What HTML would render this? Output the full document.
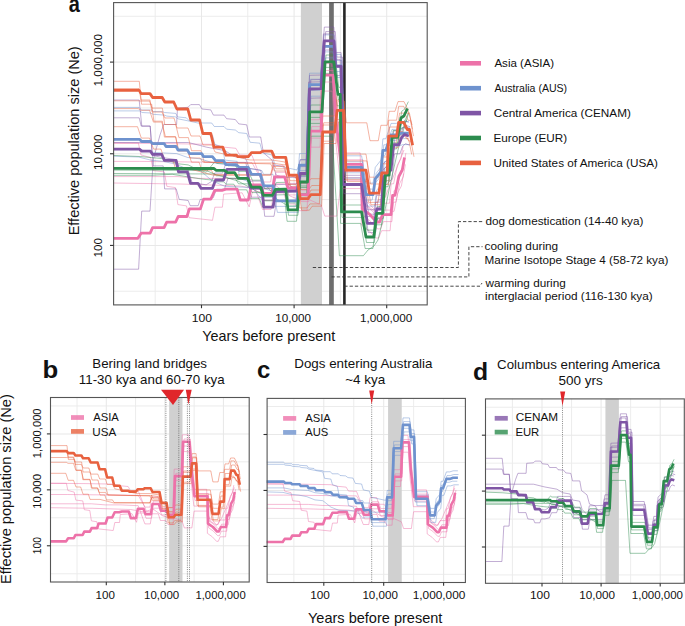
<!DOCTYPE html>
<html><head><meta charset="utf-8"><style>
html,body{margin:0;padding:0;background:#fff;}
svg{display:block;}
text{font-family:"Liberation Sans", sans-serif;}
</style></head><body>
<svg width="685" height="626" viewBox="0 0 685 626">
<rect width="685" height="626" fill="#fff"/>
<line x1="155.20" y1="2.6" x2="155.20" y2="304.9" stroke="#ebebeb" stroke-width="0.95"/>
<line x1="113.6" y1="291.25" x2="427.2" y2="291.25" stroke="#ebebeb" stroke-width="0.95"/>
<line x1="247.80" y1="2.6" x2="247.80" y2="304.9" stroke="#ebebeb" stroke-width="0.95"/>
<line x1="113.6" y1="199.59" x2="427.2" y2="199.59" stroke="#ebebeb" stroke-width="0.95"/>
<line x1="340.40" y1="2.6" x2="340.40" y2="304.9" stroke="#ebebeb" stroke-width="0.95"/>
<line x1="113.6" y1="107.93" x2="427.2" y2="107.93" stroke="#ebebeb" stroke-width="0.95"/>
<line x1="113.6" y1="16.27" x2="427.2" y2="16.27" stroke="#ebebeb" stroke-width="0.95"/>
<line x1="201.50" y1="2.6" x2="201.50" y2="304.9" stroke="#e8e8e8" stroke-width="1.05"/>
<line x1="113.6" y1="245.42" x2="427.2" y2="245.42" stroke="#e8e8e8" stroke-width="1.05"/>
<line x1="294.10" y1="2.6" x2="294.10" y2="304.9" stroke="#e8e8e8" stroke-width="1.05"/>
<line x1="113.6" y1="153.76" x2="427.2" y2="153.76" stroke="#e8e8e8" stroke-width="1.05"/>
<line x1="386.70" y1="2.6" x2="386.70" y2="304.9" stroke="#e8e8e8" stroke-width="1.05"/>
<line x1="113.6" y1="62.10" x2="427.2" y2="62.10" stroke="#e8e8e8" stroke-width="1.05"/>
<line x1="77.02" y1="397.5" x2="77.02" y2="582.0" stroke="#ebebeb" stroke-width="0.95"/>
<line x1="50.5" y1="573.75" x2="249.2" y2="573.75" stroke="#ebebeb" stroke-width="0.95"/>
<line x1="135.58" y1="397.5" x2="135.58" y2="582.0" stroke="#ebebeb" stroke-width="0.95"/>
<line x1="50.5" y1="517.81" x2="249.2" y2="517.81" stroke="#ebebeb" stroke-width="0.95"/>
<line x1="194.14" y1="397.5" x2="194.14" y2="582.0" stroke="#ebebeb" stroke-width="0.95"/>
<line x1="50.5" y1="461.87" x2="249.2" y2="461.87" stroke="#ebebeb" stroke-width="0.95"/>
<line x1="50.5" y1="405.93" x2="249.2" y2="405.93" stroke="#ebebeb" stroke-width="0.95"/>
<line x1="106.30" y1="397.5" x2="106.30" y2="582.0" stroke="#e8e8e8" stroke-width="1.05"/>
<line x1="50.5" y1="545.78" x2="249.2" y2="545.78" stroke="#e8e8e8" stroke-width="1.05"/>
<line x1="164.86" y1="397.5" x2="164.86" y2="582.0" stroke="#e8e8e8" stroke-width="1.05"/>
<line x1="50.5" y1="489.84" x2="249.2" y2="489.84" stroke="#e8e8e8" stroke-width="1.05"/>
<line x1="223.42" y1="397.5" x2="223.42" y2="582.0" stroke="#e8e8e8" stroke-width="1.05"/>
<line x1="50.5" y1="433.90" x2="249.2" y2="433.90" stroke="#e8e8e8" stroke-width="1.05"/>
<line x1="293.85" y1="398.4" x2="293.85" y2="582.5" stroke="#ebebeb" stroke-width="0.95"/>
<line x1="267.1" y1="574.35" x2="465.4" y2="574.35" stroke="#ebebeb" stroke-width="0.95"/>
<line x1="353.75" y1="398.4" x2="353.75" y2="582.5" stroke="#ebebeb" stroke-width="0.95"/>
<line x1="267.1" y1="518.41" x2="465.4" y2="518.41" stroke="#ebebeb" stroke-width="0.95"/>
<line x1="413.65" y1="398.4" x2="413.65" y2="582.5" stroke="#ebebeb" stroke-width="0.95"/>
<line x1="267.1" y1="462.47" x2="465.4" y2="462.47" stroke="#ebebeb" stroke-width="0.95"/>
<line x1="267.1" y1="406.53" x2="465.4" y2="406.53" stroke="#ebebeb" stroke-width="0.95"/>
<line x1="323.80" y1="398.4" x2="323.80" y2="582.5" stroke="#e8e8e8" stroke-width="1.05"/>
<line x1="267.1" y1="546.38" x2="465.4" y2="546.38" stroke="#e8e8e8" stroke-width="1.05"/>
<line x1="383.70" y1="398.4" x2="383.70" y2="582.5" stroke="#e8e8e8" stroke-width="1.05"/>
<line x1="267.1" y1="490.44" x2="465.4" y2="490.44" stroke="#e8e8e8" stroke-width="1.05"/>
<line x1="443.60" y1="398.4" x2="443.60" y2="582.5" stroke="#e8e8e8" stroke-width="1.05"/>
<line x1="267.1" y1="434.50" x2="465.4" y2="434.50" stroke="#e8e8e8" stroke-width="1.05"/>
<line x1="512.45" y1="398.9" x2="512.45" y2="583.3" stroke="#ebebeb" stroke-width="0.95"/>
<line x1="485.5" y1="574.95" x2="684.3" y2="574.95" stroke="#ebebeb" stroke-width="0.95"/>
<line x1="571.55" y1="398.9" x2="571.55" y2="583.3" stroke="#ebebeb" stroke-width="0.95"/>
<line x1="485.5" y1="519.05" x2="684.3" y2="519.05" stroke="#ebebeb" stroke-width="0.95"/>
<line x1="630.65" y1="398.9" x2="630.65" y2="583.3" stroke="#ebebeb" stroke-width="0.95"/>
<line x1="485.5" y1="463.15" x2="684.3" y2="463.15" stroke="#ebebeb" stroke-width="0.95"/>
<line x1="485.5" y1="407.25" x2="684.3" y2="407.25" stroke="#ebebeb" stroke-width="0.95"/>
<line x1="542.00" y1="398.9" x2="542.00" y2="583.3" stroke="#e8e8e8" stroke-width="1.05"/>
<line x1="485.5" y1="547.00" x2="684.3" y2="547.00" stroke="#e8e8e8" stroke-width="1.05"/>
<line x1="601.10" y1="398.9" x2="601.10" y2="583.3" stroke="#e8e8e8" stroke-width="1.05"/>
<line x1="485.5" y1="491.10" x2="684.3" y2="491.10" stroke="#e8e8e8" stroke-width="1.05"/>
<line x1="660.20" y1="398.9" x2="660.20" y2="583.3" stroke="#e8e8e8" stroke-width="1.05"/>
<line x1="485.5" y1="435.20" x2="684.3" y2="435.20" stroke="#e8e8e8" stroke-width="1.05"/>
<rect x="300.87" y="2.6" width="21.11" height="302.30" fill="#d0d0d0"/>
<rect x="329.1" y="2.6" width="4.7" height="302.30" fill="#6e6e6e"/>
<rect x="343.1" y="2.6" width="2.6" height="302.30" fill="#262626"/>
<rect x="169.14" y="397.5" width="13.35" height="184.50" fill="#d0d0d0"/>
<rect x="388.08" y="398.4" width="13.66" height="184.10" fill="#d0d0d0"/>
<rect x="605.42" y="398.9" width="13.47" height="184.40" fill="#d0d0d0"/>
<clipPath id="ca"><rect x="113.6" y="2.6" width="313.6" height="302.29999999999995"/></clipPath>
<g clip-path="url(#ca)">
<polyline points="113.7,143.1 138.4,143.1 140.9,154.9 150.7,157.5 153.2,170.6 164.3,171.9 166.8,186.3 175.4,187.6 177.9,204.6 186.5,205.9 189.0,217.7 212.5,220.3 214.9,207.2 222.4,207.2 223.6,194.1 242.1,192.8 249.2,206.9 252.4,191.7 261.2,191.7 264.4,200.4 272.9,200.4 275.4,183.8 285.5,183.8 288.9,194.9 297.2,194.9 300.9,201.6 308.9,201.6 311.1,138.1 321.9,138.1 323.9,82.0 334.0,82.0 336.9,126.9 341.9,171.3 362.5,171.3 363.2,215.9 370.9,221.6 377.6,228.9 380.5,228.9 383.4,221.6 391.9,221.6 393.5,202.2 395.9,202.2 399.7,183.4 403.2,176.9 405.4,164.4" fill="none" stroke="#ED72A9" stroke-width="0.8" stroke-linejoin="round" stroke-opacity="0.6"/>
<polyline points="113.7,143.1 168.0,143.6 212.5,144.4 222.4,147.0 235.9,148.3 239.6,154.9 252.0,155.4 258.9,173.3 262.1,182.0 270.6,182.0 273.1,165.4 283.2,165.4 286.6,176.5 294.9,176.5 298.6,183.2 306.6,183.2 308.8,119.7 319.6,119.7 321.6,63.6 331.7,63.6 334.6,108.5 339.6,152.9 360.2,152.9 360.9,197.5 368.6,203.2 375.3,210.5 378.2,210.5 381.1,203.2 389.6,203.2 391.2,183.8 393.6,183.8 397.4,165.0 400.9,158.5 403.1,146.0" fill="none" stroke="#ED72A9" stroke-width="0.8" stroke-linejoin="round" stroke-opacity="0.6"/>
<polyline points="113.7,161.4 139.6,161.4 252.0,162.7 261.7,180.2 264.9,188.9 273.4,188.9 275.9,172.3 286.0,172.3 289.4,183.4 297.7,183.4 301.4,190.1 309.4,190.1 311.6,126.6 322.4,126.6 324.4,70.5 334.5,70.5 337.4,115.4 342.4,159.8 363.0,159.8 363.7,204.4 371.4,210.1 378.1,217.4 381.0,217.4 383.9,210.1 392.4,210.1 394.0,190.7 396.4,190.7 400.2,171.9 403.7,165.4 405.9,152.9" fill="none" stroke="#ED72A9" stroke-width="0.8" stroke-linejoin="round" stroke-opacity="0.6"/>
<polyline points="113.7,176.6 177.9,176.6 200.1,178.4 224.8,178.4 252.0,179.7 259.4,200.8 262.6,209.5 271.1,209.5 273.6,192.9 283.7,192.9 287.1,204.0 295.4,204.0 299.1,210.7 307.1,210.7 309.3,147.2 320.1,147.2 322.1,91.1 332.2,91.1 335.1,136.0 340.1,180.4 360.7,180.4 361.4,225.0 369.1,230.7 375.8,238.0 378.7,238.0 381.6,230.7 390.1,230.7 391.7,211.3 394.1,211.3 397.9,192.5 401.4,186.0 403.6,173.5" fill="none" stroke="#ED72A9" stroke-width="0.8" stroke-linejoin="round" stroke-opacity="0.6"/>
<polyline points="113.0,183.0 180.0,184.0 240.0,186.0 262.0,190.0 275.0,185.0 290.0,196.0 300.0,200.0 309.2,199.6 321.3,205.1 324.8,216.1 336.9,216.1 340.3,188.6 361.0,188.6 366.0,205.0 376.0,212.0 384.0,200.0 392.0,180.0 398.0,165.0 404.0,150.0" fill="none" stroke="#ED72A9" stroke-width="0.8" stroke-linejoin="round" stroke-opacity="0.6"/>
<polyline points="113.0,107.4 139.0,107.4 141.5,110.0 151.7,110.0 153.5,111.6 162.6,111.6 164.4,112.5 175.8,113.4 177.5,116.9 186.3,117.8 188.9,120.4 199.4,121.3 202.0,123.0 211.7,123.0 214.3,126.5 224.0,126.5 226.6,129.2 235.3,130.0 238.8,132.7 246.7,133.5 250.2,142.3 259.9,143.2 262.5,152.8 272.0,155.0 275.0,165.0 288.0,168.0 297.0,170.0 300.4,159.6 307.9,159.6 310.4,79.2 321.9,79.2 324.9,40.9 334.9,40.9 336.9,60.5 341.9,60.5 344.9,161.8 362.5,161.8 366.9,189.1 374.0,189.1 376.2,173.3 381.9,166.1 383.8,144.8 386.7,144.8 392.0,129.4 397.1,129.4 402.5,127.6 409.7,127.6" fill="none" stroke="#6E92CE" stroke-width="0.8" stroke-linejoin="round" stroke-opacity="0.6"/>
<polyline points="113.7,110.9 139.6,110.9 142.1,112.5 150.7,113.0 153.2,114.3 164.3,115.1 166.8,116.1 175.4,116.9 177.9,118.8 187.8,120.8 200.1,123.5 202.6,133.9 212.5,135.2 214.9,144.4 222.4,147.0 224.8,160.1 237.2,161.4 239.6,178.4 247.0,181.0 249.5,186.3 261.9,187.6 272.1,191.3 275.1,206.4 296.1,206.4 298.6,170.6 306.1,170.6 308.6,90.2 320.1,90.2 323.1,51.9 333.1,51.9 335.1,71.5 340.1,71.5 343.1,172.8 360.7,172.8 365.1,200.1 372.2,200.1 374.4,184.3 380.1,177.1 382.0,155.8 384.9,155.8 390.2,140.4 395.3,140.4 400.7,138.6 407.9,138.6" fill="none" stroke="#6E92CE" stroke-width="0.8" stroke-linejoin="round" stroke-opacity="0.6"/>
<polyline points="113.7,149.6 139.6,149.6 152.0,152.3 176.7,153.6 187.8,157.5 200.1,158.8 212.5,162.7 237.2,166.6 261.9,170.6 263.5,174.3 273.0,174.3 276.0,189.4 297.0,189.4 299.5,153.6 307.0,153.6 309.5,73.2 321.0,73.2 324.0,34.9 334.0,34.9 336.0,54.5 341.0,54.5 344.0,155.8 361.6,155.8 366.0,183.1 373.1,183.1 375.3,167.3 381.0,160.1 382.9,138.8 385.8,138.8 391.1,123.4 396.2,123.4 401.6,121.6 408.8,121.6" fill="none" stroke="#6E92CE" stroke-width="0.8" stroke-linejoin="round" stroke-opacity="0.6"/>
<polyline points="113.7,156.2 138.4,157.0 150.7,160.1 163.1,161.4 175.4,164.0 187.8,169.3 200.1,170.6 212.5,181.0 224.8,186.3 252.0,187.6 261.9,199.4 264.9,197.3 274.4,197.3 277.4,212.4 298.4,212.4 300.9,176.6 308.4,176.6 310.9,96.2 322.4,96.2 325.4,57.9 335.4,57.9 337.4,77.5 342.4,77.5 345.4,178.8 363.0,178.8 367.4,206.1 374.5,206.1 376.7,190.3 382.4,183.1 384.3,161.8 387.2,161.8 392.5,146.4 397.6,146.4 403.0,144.6 410.2,144.6" fill="none" stroke="#6E92CE" stroke-width="0.8" stroke-linejoin="round" stroke-opacity="0.6"/>
<polyline points="112.2,100.0 139.2,100.0 141.8,126.1 150.2,126.1 153.2,165.9 163.2,165.9 164.6,188.9 176.2,188.9 179.2,199.4 188.2,200.5 190.2,205.7 198.2,205.7 200.2,199.4 206.2,199.4 213.3,197.6 216.5,189.2 224.4,189.2 227.9,178.5 247.6,178.5 251.3,197.2 262.8,197.2 264.7,216.3 274.0,216.3 276.5,200.8 298.3,200.2 301.1,182.7 307.8,182.7 310.4,98.2 322.0,97.9 325.2,50.0 334.8,50.0 336.4,75.5 342.0,75.5 343.9,193.7 362.5,193.7 368.3,232.6 375.5,232.6 377.6,218.2 382.7,218.2 384.1,186.5 391.9,179.2 394.6,153.8 399.9,153.8 402.5,146.6 405.4,143.7 409.7,145.2" fill="none" stroke="#7F55A5" stroke-width="0.8" stroke-linejoin="round" stroke-opacity="0.6"/>
<polyline points="112.2,117.8 139.2,117.8 141.2,126.1 150.2,126.1 152.2,155.4 162.2,157.5 176.2,159.6 179.2,168.0 188.2,170.1 192.2,182.7 206.2,184.8 211.5,181.5 214.7,173.1 222.6,173.1 226.1,162.4 245.8,162.4 249.5,181.1 261.0,181.1 262.9,200.2 272.2,200.2 274.7,184.7 296.5,184.1 299.3,166.6 306.0,166.6 308.6,82.1 320.2,81.8 323.4,33.9 333.0,33.9 334.6,59.4 340.2,59.4 342.1,177.6 360.7,177.6 366.5,216.5 373.7,216.5 375.8,202.1 380.9,202.1 382.3,170.4 390.1,163.1 392.8,137.7 398.1,137.7 400.7,130.5 403.6,127.6 407.9,129.1" fill="none" stroke="#7F55A5" stroke-width="0.8" stroke-linejoin="round" stroke-opacity="0.6"/>
<polyline points="112.2,142.5 188.2,142.5 202.2,146.0 206.2,147.1 224.9,150.6 234.3,156.5 245.6,158.4 249.3,168.3 260.6,170.2 264.4,184.0 273.1,193.4 275.6,177.9 297.4,177.3 300.2,159.8 306.9,159.8 309.5,75.3 321.1,75.0 324.3,27.1 333.9,27.1 335.5,52.6 341.1,52.6 343.0,170.8 361.6,170.8 367.4,209.7 374.6,209.7 376.7,195.3 381.8,195.3 383.2,163.6 391.0,156.3 393.7,130.9 399.0,130.9 401.6,123.7 404.5,120.8 408.8,122.3" fill="none" stroke="#7F55A5" stroke-width="0.8" stroke-linejoin="round" stroke-opacity="0.6"/>
<polyline points="113.0,269.2 138.6,269.2 141.7,211.1 150.0,211.1 153.2,160.0 160.0,135.0 163.7,124.5 176.6,124.5 177.5,108.1 188.0,107.3 190.7,104.6 199.4,104.6 202.0,109.0 210.8,109.9 213.4,115.1 224.0,115.1 226.6,118.7 235.3,119.5 238.8,123.9 246.7,124.8 249.3,137.0 260.7,137.0 263.4,152.8 272.0,160.0 276.0,175.0 285.0,178.0 289.0,185.0 297.0,190.0 300.0,176.0 307.0,176.0 310.9,79.8 322.5,79.5 325.7,31.6 335.3,31.6 336.9,57.1 342.5,57.1 344.4,175.3 363.0,175.3 368.8,214.2 376.0,214.2 378.1,199.8 383.2,199.8 384.6,168.1 392.4,160.8 395.1,135.4 400.4,135.4 403.0,128.2 405.9,125.3 410.2,126.8" fill="none" stroke="#7F55A5" stroke-width="0.8" stroke-linejoin="round" stroke-opacity="0.6"/>
<polyline points="112.2,155.4 140.2,156.5 162.2,158.6 178.2,163.8 188.2,164.9 198.2,170.1 206.2,172.2 214.9,161.6 216.9,163.4 225.2,163.4 228.4,165.8 235.6,165.8 238.9,171.4 248.4,171.4 252.4,180.2 261.2,180.2 264.4,188.4 273.2,188.4 276.4,182.5 286.6,182.3 288.9,202.9 298.3,202.9 300.5,175.1 308.4,175.1 310.6,105.1 312.1,105.0 322.8,105.0 326.0,55.0 334.8,55.0 338.8,87.4 341.2,87.4 342.4,205.0 362.5,205.0 366.9,230.1 374.7,230.1 377.6,206.4 383.4,206.4 386.3,168.3 389.9,168.3 393.1,130.5 398.4,130.5 401.8,111.1 404.8,109.1 408.4,101.6" fill="none" stroke="#2C8C4E" stroke-width="0.8" stroke-linejoin="round" stroke-opacity="0.6"/>
<polyline points="112.2,175.3 152.2,175.3 172.2,174.3 198.2,178.5 206.2,179.5 213.1,180.0 215.1,181.8 223.4,181.8 226.6,184.2 233.8,184.2 237.1,189.8 246.6,189.8 250.6,198.6 259.4,198.6 262.6,206.8 271.4,206.8 274.6,200.9 284.8,200.7 287.1,221.3 296.5,221.3 298.7,193.5 306.6,193.5 308.8,123.5 310.3,123.4 321.0,123.4 324.2,73.4 333.0,73.4 337.0,105.8 339.4,105.8 340.6,223.4 360.7,223.4 365.1,248.5 372.9,248.5 375.8,224.8 381.6,224.8 384.5,186.7 388.1,186.7 391.3,148.9 396.6,148.9 400.0,129.5 403.0,127.5 406.6,120.0" fill="none" stroke="#2C8C4E" stroke-width="0.8" stroke-linejoin="round" stroke-opacity="0.6"/>
<polyline points="112.2,170.1 206.2,170.5 214.5,174.0 216.5,175.8 224.8,175.8 228.0,178.2 235.2,178.2 238.5,183.8 248.0,183.8 252.0,192.6 260.8,192.6 264.0,200.8 272.8,200.8 276.0,194.9 286.2,194.7 288.5,215.3 297.9,215.3 300.1,187.5 308.0,187.5 310.2,117.5 311.7,117.4 322.4,117.4 325.6,67.4 334.4,67.4 338.4,99.8 340.8,99.8 342.0,217.4 362.1,217.4 366.5,242.5 374.3,242.5 377.2,218.8 383.0,218.8 385.9,180.7 389.5,180.7 392.7,142.9 398.0,142.9 401.4,123.5 404.4,121.5 408.0,114.0" fill="none" stroke="#2C8C4E" stroke-width="0.8" stroke-linejoin="round" stroke-opacity="0.6"/>
<polyline points="113.0,173.5 214.0,174.0 238.0,181.0 260.0,193.0 272.0,196.0 288.0,206.0 297.0,206.0 300.0,186.0 308.0,186.0 311.0,136.2 332.3,136.2 339.4,255.7 363.4,255.7 368.0,250.0 374.0,246.0 378.0,240.0 384.0,215.0 390.0,185.0 398.0,150.0 404.0,128.0 409.0,112.0" fill="none" stroke="#2C8C4E" stroke-width="0.8" stroke-linejoin="round" stroke-opacity="0.6"/>
<polyline points="113.0,81.3 139.3,81.3 141.5,104.2 151.7,104.2 153.9,121.2 162.4,121.2 164.4,137.1 175.9,137.1 178.0,151.0 188.0,151.0 190.0,158.0 200.0,158.0 203.0,162.0 240.0,163.0 272.0,163.0 285.0,165.0 286.6,162.8 289.9,180.7 297.7,180.7 301.1,189.5 308.9,189.5 311.7,185.5 321.2,185.5 323.6,122.8 335.6,122.8 338.0,101.2 344.4,101.2 346.8,160.9 366.9,160.9 370.4,184.0 379.8,184.0 382.7,163.8 388.2,163.8 389.5,127.0 397.5,127.0 399.6,113.1 404.6,113.1 408.2,120.3 410.4,120.3 413.5,136.1" fill="none" stroke="#E8613F" stroke-width="0.8" stroke-linejoin="round" stroke-opacity="0.6"/>
<polyline points="112.5,108.6 138.2,108.6 140.9,110.3 149.6,110.3 153.4,122.1 161.8,122.1 165.4,136.5 175.4,136.5 178.9,150.6 187.6,150.6 191.5,162.2 199.1,162.2 201.8,170.2 211.3,170.2 213.7,174.5 270.6,174.8 273.6,166.5 284.8,166.5 288.1,184.4 295.9,184.4 299.3,207.9 307.1,207.9 309.9,203.9 319.4,203.9 321.8,141.2 333.8,141.2 336.2,119.6 342.6,119.6 345.0,179.3 365.1,179.3 368.6,202.4 378.0,202.4 380.9,182.2 386.4,182.2 387.7,145.4 395.7,145.4 397.8,131.5 402.8,131.5 406.4,138.7 408.6,138.7 411.7,154.5" fill="none" stroke="#E8613F" stroke-width="0.8" stroke-linejoin="round" stroke-opacity="0.6"/>
<polyline points="112.5,126.7 137.5,126.7 141.3,138.1 149.6,138.1 153.6,149.1 161.0,149.1 164.7,160.9 173.2,160.9 175.7,169.4 191.5,169.4 213.7,175.3 270.6,175.3 273.1,162.6 275.9,168.8 287.1,168.8 290.4,186.7 298.2,186.7 301.6,210.2 309.4,210.2 312.2,206.2 321.7,206.2 324.1,143.5 336.1,143.5 338.5,121.9 344.9,121.9 347.3,181.6 367.4,181.6 370.9,204.7 380.3,204.7 383.2,184.5 388.7,184.5 390.0,147.7 398.0,147.7 400.1,133.8 405.1,133.8 408.7,141.0 410.9,141.0 414.0,156.8" fill="none" stroke="#E8613F" stroke-width="0.8" stroke-linejoin="round" stroke-opacity="0.6"/>
<polyline points="112.5,100.8 138.2,100.8 141.3,101.1 149.6,101.1 152.0,108.1 162.4,108.1 164.7,124.5 175.7,124.5 178.9,137.6 188.4,137.6 191.5,150.7 201.0,150.7 204.2,162.2 270.6,163.9 274.5,171.0 285.7,171.0 289.0,188.9 296.8,188.9 300.2,182.7 308.0,182.7 310.8,178.7 320.3,178.7 322.7,116.0 334.7,116.0 337.1,94.4 343.5,94.4 345.9,154.1 366.0,154.1 369.5,177.2 378.9,177.2 381.8,157.0 387.3,157.0 388.6,120.2 396.6,120.2 398.7,106.3 403.7,106.3 407.3,113.5 409.5,113.5 412.6,129.3" fill="none" stroke="#E8613F" stroke-width="0.8" stroke-linejoin="round" stroke-opacity="0.6"/>
<polyline points="113.0,88.5 139.0,88.5 141.0,100.0 150.0,100.0 152.0,112.0 162.0,112.0 165.0,118.0 174.0,118.0 177.0,128.0 188.0,128.0 191.0,136.0 200.0,136.0 203.0,145.0 212.0,145.0 215.0,152.0 250.0,160.0 272.0,160.0 285.0,162.0 289.0,175.0 297.0,178.0 300.0,195.0 308.0,196.0 311.0,190.0 320.0,190.0 322.7,125.0 334.7,125.0 337.0,100.0 343.5,100.0 346.4,122.8 366.8,122.8 370.0,140.7 378.3,140.7 380.9,125.3 387.3,125.3 389.2,111.3 395.0,111.3 398.0,101.6 404.0,101.6 408.0,110.0 412.0,125.0" fill="none" stroke="#E8613F" stroke-width="0.8" stroke-linejoin="round" stroke-opacity="0.6"/>
<polyline points="113.0,238.3 137.9,238.3 141.1,233.2 150.1,233.2 152.6,227.7 164.1,227.7 166.7,222.2 175.6,222.2 178.2,216.5 186.9,216.5 189.4,208.9 200.4,208.9 203.6,199.1 210.8,199.1 214.8,190.4 222.0,190.4 226.0,189.2 237.1,189.2 240.3,200.0 248.3,200.0 251.5,184.8 260.3,184.8 263.5,193.5 272.0,193.5 274.5,176.9 284.6,176.9 288.0,188.0 296.3,188.0 300.0,194.7 308.0,194.7 310.2,131.2 321.0,131.2 323.0,75.1 333.1,75.1 336.0,120.0 341.0,164.4 361.6,164.4 362.3,209.0 370.0,214.7 376.7,222.0 379.6,222.0 382.5,214.7 391.0,214.7 392.6,195.3 395.0,195.3 398.8,176.5 402.3,170.0 404.5,157.5" fill="none" stroke="#ED72A9" stroke-width="2.8" stroke-linejoin="round" stroke-opacity="1.0"/>
<polyline points="113.0,139.3 139.4,139.3 141.8,141.5 150.5,141.5 152.5,143.6 164.1,143.6 166.0,146.5 176.1,146.5 178.0,150.0 187.3,150.0 189.5,153.6 201.7,153.6 203.6,156.7 212.4,156.7 215.6,160.7 223.5,160.7 226.0,164.7 236.3,164.7 239.5,167.5 248.3,167.5 251.5,174.4 260.3,174.4 263.5,185.8 273.0,185.8 276.0,200.9 297.0,200.9 299.5,165.1 307.0,165.1 309.5,84.7 321.0,84.7 324.0,46.4 334.0,46.4 336.0,66.0 341.0,66.0 344.0,167.3 361.6,167.3 366.0,194.6 373.1,194.6 375.3,178.8 381.0,171.6 382.9,150.3 385.8,150.3 391.1,134.9 396.2,134.9 401.6,133.1 408.8,133.1" fill="none" stroke="#6E92CE" stroke-width="2.8" stroke-linejoin="round" stroke-opacity="1.0"/>
<polyline points="113.0,149.2 139.4,149.2 141.8,151.2 150.5,151.2 152.5,154.3 161.7,154.3 164.4,160.4 176.1,160.4 178.5,171.9 187.3,171.9 190.5,183.3 198.0,183.3 201.2,188.4 212.4,188.4 215.6,180.0 223.5,180.0 227.0,169.3 246.7,169.3 250.4,188.0 261.9,188.0 263.8,207.1 273.1,207.1 275.6,191.6 297.4,191.0 300.2,173.5 306.9,173.5 309.5,89.0 321.1,88.7 324.3,40.8 333.9,40.8 335.5,66.3 341.1,66.3 343.0,184.5 361.6,184.5 367.4,223.4 374.6,223.4 376.7,209.0 381.8,209.0 383.2,177.3 391.0,170.0 393.7,144.6 399.0,144.6 401.6,137.4 404.5,134.5 408.8,136.0" fill="none" stroke="#7F55A5" stroke-width="2.8" stroke-linejoin="round" stroke-opacity="1.0"/>
<polyline points="113.0,168.3 214.0,168.5 216.0,170.3 224.3,170.3 227.5,172.7 234.7,172.7 238.0,178.3 247.5,178.3 251.5,187.1 260.3,187.1 263.5,195.3 272.3,195.3 275.5,189.4 285.7,189.2 288.0,209.8 297.4,209.8 299.6,182.0 307.5,182.0 309.7,112.0 311.2,111.9 321.9,111.9 325.1,61.9 333.9,61.9 337.9,94.3 340.3,94.3 341.5,211.9 361.6,211.9 366.0,237.0 373.8,237.0 376.7,213.3 382.5,213.3 385.4,175.2 389.0,175.2 392.2,137.4 397.5,137.4 400.9,118.0 403.9,116.0 407.5,108.5" fill="none" stroke="#2C8C4E" stroke-width="2.8" stroke-linejoin="round" stroke-opacity="1.0"/>
<polyline points="113.0,90.4 139.2,90.4 141.1,93.6 150.0,93.6 152.6,97.5 162.2,97.5 164.8,102.0 173.7,102.0 176.9,109.0 187.8,109.0 190.8,120.0 199.6,120.0 202.8,133.5 210.8,133.5 214.0,147.1 222.7,147.1 226.0,155.1 236.3,155.1 238.0,156.7 248.3,156.7 251.5,152.7 260.3,152.7 262.7,151.1 271.7,151.1 274.5,157.3 285.7,157.3 289.0,175.2 296.8,175.2 300.2,198.7 308.0,198.7 310.8,194.7 320.3,194.7 322.7,132.0 334.7,132.0 337.1,110.4 343.5,110.4 345.9,170.1 366.0,170.1 369.5,193.2 378.9,193.2 381.8,173.0 387.3,173.0 388.6,136.2 396.6,136.2 398.7,122.3 403.7,122.3 407.3,129.5 409.5,129.5 412.6,145.3" fill="none" stroke="#E8613F" stroke-width="2.8" stroke-linejoin="round" stroke-opacity="1.0"/>
</g>
<polyline points="50.8,483.3 66.4,483.3 67.9,490.5 74.2,492.1 75.8,500.1 82.8,500.9 84.3,509.7 89.8,510.5 91.4,520.9 96.8,521.7 98.4,528.9 113.2,530.5 114.8,522.5 119.5,522.5 120.3,514.5 132.0,513.7 136.5,522.3 138.5,513.0 144.1,513.0 146.1,518.3 151.5,518.3 153.1,508.2 159.4,508.2 161.6,514.9 166.8,514.9 169.2,519.0 174.2,519.0 175.6,480.3 182.5,480.3 183.7,446.0 190.1,446.0 191.9,473.4 195.1,500.5 208.1,500.5 208.6,527.7 213.4,531.2 217.7,535.7 219.5,535.7 221.3,531.2 226.7,531.2 227.7,519.4 229.3,519.4 231.7,507.9 233.9,503.9 235.3,496.3" fill="none" stroke="#ED72A9" stroke-width="0.8" stroke-linejoin="round" stroke-opacity="0.6"/>
<polyline points="50.8,483.3 85.1,483.6 113.2,484.1 119.5,485.7 128.1,486.5 130.4,490.5 138.2,490.8 142.6,501.8 144.6,507.1 150.0,507.1 151.6,497.0 158.0,497.0 160.1,503.7 165.4,503.7 167.7,507.8 172.8,507.8 174.2,469.1 181.0,469.1 182.3,434.8 188.6,434.8 190.5,462.2 193.6,489.3 206.7,489.3 207.1,516.6 212.0,520.0 216.2,524.5 218.1,524.5 219.9,520.0 225.3,520.0 226.3,508.2 227.8,508.2 230.2,496.7 232.4,492.8 233.8,485.1" fill="none" stroke="#ED72A9" stroke-width="0.8" stroke-linejoin="round" stroke-opacity="0.6"/>
<polyline points="50.8,494.5 67.2,494.5 138.2,495.3 144.4,506.0 146.4,511.3 151.8,511.3 153.3,501.2 159.7,501.2 161.9,507.9 167.1,507.9 169.5,512.0 174.5,512.0 175.9,473.3 182.7,473.3 184.0,439.0 190.4,439.0 192.2,466.4 195.4,493.5 208.4,493.5 208.9,520.8 213.7,524.2 218.0,528.7 219.8,528.7 221.6,524.2 227.0,524.2 228.0,512.4 229.5,512.4 232.0,500.9 234.2,497.0 235.6,489.3" fill="none" stroke="#ED72A9" stroke-width="0.8" stroke-linejoin="round" stroke-opacity="0.6"/>
<polyline points="50.8,503.8 91.4,503.8 105.4,504.9 121.0,504.9 138.2,505.7 142.9,518.6 144.9,523.9 150.3,523.9 151.9,513.8 158.3,513.8 160.4,520.5 165.7,520.5 168.0,524.6 173.1,524.6 174.5,485.9 181.3,485.9 182.6,451.6 188.9,451.6 190.8,479.0 193.9,506.1 207.0,506.1 207.4,533.3 212.3,536.8 216.5,541.3 218.3,541.3 220.2,536.8 225.6,536.8 226.6,525.0 228.1,525.0 230.5,513.5 232.7,509.5 234.1,501.9" fill="none" stroke="#ED72A9" stroke-width="0.8" stroke-linejoin="round" stroke-opacity="0.6"/>
<polyline points="50.3,507.7 92.7,508.3 130.6,509.5 144.6,512.0 152.8,508.9 162.3,515.6 168.6,518.1 174.4,517.8 182.1,521.2 184.3,527.9 191.9,527.9 194.1,511.1 207.2,511.1 210.3,521.1 216.7,525.4 221.7,518.1 226.8,505.9 230.6,496.7 234.4,487.5" fill="none" stroke="#ED72A9" stroke-width="0.8" stroke-linejoin="round" stroke-opacity="0.6"/>
<polyline points="50.3,445.6 67.0,445.6 68.4,459.6 74.8,459.6 76.2,470.0 81.6,470.0 82.8,479.7 90.1,479.7 91.4,488.2 97.8,488.2 99.0,492.4 105.4,492.4 107.2,494.9 130.6,495.5 150.9,495.5 159.1,496.7 160.1,495.4 162.2,506.3 167.2,506.3 169.3,511.7 174.2,511.7 176.0,509.2 182.0,509.2 183.5,471.0 191.1,471.0 192.6,457.8 196.7,457.8 198.2,494.2 210.9,494.2 213.1,508.3 219.1,508.3 220.9,496.0 224.4,496.0 225.2,473.5 230.3,473.5 231.6,465.0 234.8,465.0 237.0,469.4 238.4,469.4 240.4,479.1" fill="none" stroke="#E8613F" stroke-width="0.8" stroke-linejoin="round" stroke-opacity="0.6"/>
<polyline points="50.0,462.3 66.3,462.3 68.0,463.3 73.5,463.3 75.9,470.5 81.2,470.5 83.5,479.3 89.8,479.3 92.0,487.9 97.5,487.9 100.0,495.0 104.8,495.0 106.5,499.9 112.5,499.9 114.0,502.5 150.0,502.7 151.9,497.6 159.0,497.6 161.0,508.5 166.0,508.5 168.1,522.9 173.1,522.9 174.8,520.4 180.8,520.4 182.4,482.2 189.9,482.2 191.5,469.0 195.5,469.0 197.0,505.4 209.7,505.4 212.0,519.5 217.9,519.5 219.7,507.2 223.2,507.2 224.0,484.7 229.1,484.7 230.4,476.2 233.6,476.2 235.9,480.6 237.3,480.6 239.2,490.3" fill="none" stroke="#E8613F" stroke-width="0.8" stroke-linejoin="round" stroke-opacity="0.6"/>
<polyline points="50.0,473.3 65.8,473.3 68.2,480.3 73.5,480.3 76.0,487.0 80.7,487.0 83.0,494.2 88.4,494.2 90.0,499.4 100.0,499.4 114.0,503.0 150.0,503.0 151.6,495.2 153.3,499.0 160.4,499.0 162.5,509.9 167.4,509.9 169.6,524.3 174.5,524.3 176.3,521.8 182.3,521.8 183.8,483.6 191.4,483.6 192.9,470.4 197.0,470.4 198.5,506.8 211.2,506.8 213.4,520.9 219.4,520.9 221.2,508.6 224.7,508.6 225.5,486.1 230.6,486.1 231.9,477.6 235.0,477.6 237.3,482.0 238.7,482.0 240.7,491.7" fill="none" stroke="#E8613F" stroke-width="0.8" stroke-linejoin="round" stroke-opacity="0.6"/>
<polyline points="50.0,457.5 66.3,457.5 68.2,457.7 73.5,457.7 75.0,462.0 81.6,462.0 83.0,472.0 90.0,472.0 92.0,480.0 98.0,480.0 100.0,488.0 106.0,488.0 108.0,495.0 150.0,496.0 152.5,500.4 159.5,500.4 161.6,511.3 166.6,511.3 168.7,507.5 173.7,507.5 175.4,505.0 181.4,505.0 182.9,466.8 190.5,466.8 192.1,453.6 196.1,453.6 197.6,490.0 210.3,490.0 212.5,504.1 218.5,504.1 220.3,491.8 223.8,491.8 224.6,469.3 229.7,469.3 231.0,460.9 234.2,460.9 236.4,465.2 237.8,465.2 239.8,474.9" fill="none" stroke="#E8613F" stroke-width="0.8" stroke-linejoin="round" stroke-opacity="0.6"/>
<polyline points="50.3,450.0 66.8,450.0 68.0,457.0 73.7,457.0 75.0,464.4 81.3,464.4 83.2,468.0 88.9,468.0 90.8,474.1 97.8,474.1 99.7,479.0 105.4,479.0 107.2,484.5 112.9,484.5 114.8,488.8 137.0,493.6 150.9,493.6 159.1,494.9 161.6,502.8 166.7,504.6 168.6,515.0 173.7,515.6 175.5,512.0 181.2,512.0 182.9,472.3 190.5,472.3 192.0,457.0 196.1,457.0 197.9,470.9 210.8,470.9 212.9,481.9 218.1,481.9 219.8,472.5 223.8,472.5 225.0,463.9 228.7,463.9 230.6,458.0 234.4,458.0 236.9,463.1 239.4,472.3" fill="none" stroke="#E8613F" stroke-width="0.8" stroke-linejoin="round" stroke-opacity="0.6"/>
<polyline points="50.3,541.4 66.1,541.4 68.1,538.3 73.8,538.3 75.4,535.0 82.6,535.0 84.3,531.6 89.9,531.6 91.6,528.1 97.1,528.1 98.6,523.5 105.6,523.5 107.6,517.5 112.2,517.5 114.7,512.2 119.3,512.2 121.8,511.5 128.8,511.5 130.8,518.1 135.9,518.1 137.9,508.8 143.5,508.8 145.5,514.1 150.9,514.1 152.5,504.0 158.9,504.0 161.0,510.7 166.3,510.7 168.6,514.8 173.7,514.8 175.0,476.1 181.9,476.1 183.1,441.8 189.5,441.8 191.4,469.2 194.5,496.3 207.5,496.3 208.0,523.6 212.9,527.0 217.1,531.5 218.9,531.5 220.8,527.0 226.1,527.0 227.2,515.2 228.7,515.2 231.1,503.7 233.3,499.8 234.7,492.1" fill="none" stroke="#ED72A9" stroke-width="2.6" stroke-linejoin="round" stroke-opacity="1.0"/>
<polyline points="50.3,451.2 66.9,451.2 68.1,453.1 73.7,453.1 75.4,455.5 81.4,455.5 83.1,458.3 88.7,458.3 90.7,462.5 97.6,462.5 99.5,469.2 105.1,469.2 107.1,477.5 112.2,477.5 114.2,485.8 119.7,485.8 121.8,490.7 128.3,490.7 129.4,491.6 135.9,491.6 137.9,489.2 143.5,489.2 145.0,488.2 150.7,488.2 152.5,492.0 159.5,492.0 161.6,502.9 166.6,502.9 168.7,517.3 173.7,517.3 175.4,514.8 181.4,514.8 182.9,476.6 190.5,476.6 192.1,463.4 196.1,463.4 197.6,499.8 210.3,499.8 212.5,513.9 218.5,513.9 220.3,501.6 223.8,501.6 224.6,479.1 229.7,479.1 231.0,470.6 234.2,470.6 236.4,475.0 237.8,475.0 239.8,484.7" fill="none" stroke="#E8613F" stroke-width="2.6" stroke-linejoin="round" stroke-opacity="1.0"/>
<polyline points="267.0,483.9 283.0,483.9 284.6,491.1 291.0,492.7 292.6,500.7 299.7,501.5 301.3,510.3 306.9,511.1 308.5,521.5 314.1,522.3 315.7,529.5 330.9,531.1 332.5,523.1 337.3,523.1 338.1,515.1 350.1,514.3 354.7,522.9 356.7,513.6 362.4,513.6 364.5,518.9 370.0,518.9 371.6,508.8 378.2,508.8 380.4,515.5 385.7,515.5 388.1,519.6 393.3,519.6 394.7,480.9 401.7,480.9 403.0,446.6 409.5,446.6 411.4,474.0 414.6,501.1 428.0,501.1 428.4,528.3 433.4,531.8 437.7,536.3 439.6,536.3 441.5,531.8 447.0,531.8 448.0,520.0 449.6,520.0 452.0,508.5 454.3,504.5 455.7,496.9" fill="none" stroke="#ED72A9" stroke-width="0.8" stroke-linejoin="round" stroke-opacity="0.6"/>
<polyline points="267.0,483.9 302.1,484.2 330.9,484.7 337.3,486.3 346.1,487.1 348.5,491.1 356.5,491.4 360.9,502.4 363.0,507.7 368.5,507.7 370.1,497.6 376.7,497.6 378.9,504.3 384.2,504.3 386.6,508.4 391.8,508.4 393.2,469.7 400.2,469.7 401.5,435.4 408.0,435.4 409.9,462.8 413.1,489.9 426.5,489.9 426.9,517.2 431.9,520.6 436.2,525.1 438.1,525.1 440.0,520.6 445.5,520.6 446.5,508.8 448.1,508.8 450.5,497.3 452.8,493.4 454.2,485.7" fill="none" stroke="#ED72A9" stroke-width="0.8" stroke-linejoin="round" stroke-opacity="0.6"/>
<polyline points="267.0,495.1 283.8,495.1 356.5,495.9 362.7,506.6 364.8,511.9 370.3,511.9 371.9,501.8 378.5,501.8 380.7,508.5 386.0,508.5 388.4,512.6 393.6,512.6 395.0,473.9 402.0,473.9 403.3,439.6 409.8,439.6 411.7,467.0 414.9,494.1 428.3,494.1 428.7,521.4 433.7,524.8 438.0,529.3 439.9,529.3 441.8,524.8 447.3,524.8 448.3,513.0 449.9,513.0 452.3,501.5 454.6,497.6 456.0,489.9" fill="none" stroke="#ED72A9" stroke-width="0.8" stroke-linejoin="round" stroke-opacity="0.6"/>
<polyline points="267.0,504.4 308.5,504.4 322.9,505.5 338.9,505.5 356.5,506.3 361.2,519.2 363.3,524.5 368.8,524.5 370.4,514.4 377.0,514.4 379.2,521.1 384.5,521.1 386.9,525.2 392.1,525.2 393.5,486.5 400.5,486.5 401.8,452.2 408.3,452.2 410.2,479.6 413.4,506.7 426.8,506.7 427.2,533.9 432.2,537.4 436.5,541.9 438.4,541.9 440.3,537.4 445.8,537.4 446.8,525.6 448.4,525.6 450.8,514.1 453.1,510.1 454.5,502.5" fill="none" stroke="#ED72A9" stroke-width="0.8" stroke-linejoin="round" stroke-opacity="0.6"/>
<polyline points="266.6,508.3 309.9,508.9 348.7,510.1 362.9,512.6 371.3,509.5 381.0,516.2 387.5,518.7 393.5,518.4 401.3,521.8 403.6,528.5 411.4,528.5 413.6,511.7 427.0,511.7 430.2,521.7 436.7,526.0 441.9,518.7 447.0,506.5 450.9,497.3 454.8,488.1" fill="none" stroke="#ED72A9" stroke-width="0.8" stroke-linejoin="round" stroke-opacity="0.6"/>
<polyline points="266.6,462.1 283.4,462.1 285.0,463.7 291.6,463.7 292.8,464.7 298.6,464.7 299.8,465.3 307.2,465.8 308.3,467.9 314.0,468.5 315.6,470.1 322.4,470.6 324.1,471.7 330.4,471.7 332.1,473.8 338.4,473.8 340.0,475.5 345.7,475.9 347.9,477.6 353.0,478.1 355.3,483.4 361.6,484.0 363.3,489.9 369.4,491.2 371.3,497.3 379.8,499.1 385.6,500.4 387.8,494.0 392.6,494.0 394.3,444.9 401.7,444.9 403.6,421.6 410.1,421.6 411.4,433.5 414.6,433.5 416.6,495.3 428.0,495.3 430.8,512.0 435.4,512.0 436.8,502.4 440.5,498.0 441.7,485.0 443.6,485.0 447.0,475.6 450.3,475.6 453.8,474.5 458.5,474.5" fill="none" stroke="#6E92CE" stroke-width="0.8" stroke-linejoin="round" stroke-opacity="0.6"/>
<polyline points="267.0,464.3 283.8,464.3 285.4,465.2 291.0,465.6 292.6,466.4 299.7,466.8 301.3,467.5 306.9,468.0 308.5,469.1 314.9,470.4 322.9,471.9 324.5,478.3 330.9,479.1 332.5,484.7 337.3,486.3 338.9,494.3 346.9,495.1 348.5,505.5 353.3,507.1 354.9,510.3 362.8,511.1 369.5,513.4 371.4,522.6 385.0,522.6 386.6,500.7 391.4,500.7 393.1,451.6 400.5,451.6 402.4,428.3 408.9,428.3 410.2,440.2 413.4,440.2 415.4,502.1 426.8,502.1 429.6,518.7 434.2,518.7 435.6,509.1 439.3,504.7 440.5,491.7 442.4,491.7 445.8,482.3 449.1,482.3 452.6,481.2 457.3,481.2" fill="none" stroke="#6E92CE" stroke-width="0.8" stroke-linejoin="round" stroke-opacity="0.6"/>
<polyline points="267.0,487.9 283.8,487.9 291.8,489.5 307.7,490.3 314.9,492.7 322.9,493.5 330.9,495.9 346.9,498.3 362.8,500.7 363.9,503.0 370.1,503.0 372.0,512.2 385.6,512.2 387.2,490.4 392.0,490.4 393.7,441.3 401.1,441.3 403.0,417.9 409.5,417.9 410.8,429.9 414.0,429.9 416.0,491.7 427.4,491.7 430.2,508.4 434.8,508.4 436.2,498.7 439.9,494.3 441.1,481.3 443.0,481.3 446.4,471.9 449.7,471.9 453.2,470.8 457.9,470.8" fill="none" stroke="#6E92CE" stroke-width="0.8" stroke-linejoin="round" stroke-opacity="0.6"/>
<polyline points="267.0,491.9 283.0,492.4 291.0,494.3 298.9,495.1 306.9,496.7 314.9,499.9 322.9,500.7 330.9,507.1 338.9,510.3 356.5,511.1 362.8,518.3 364.8,517.0 370.9,517.0 372.9,526.2 386.5,526.2 388.1,504.4 392.9,504.4 394.6,455.3 402.0,455.3 403.9,431.9 410.4,431.9 411.7,443.9 414.9,443.9 416.9,505.7 428.3,505.7 431.1,522.4 435.7,522.4 437.1,512.7 440.8,508.3 442.0,495.3 443.9,495.3 447.3,485.9 450.6,485.9 454.1,484.8 458.8,484.8" fill="none" stroke="#6E92CE" stroke-width="0.8" stroke-linejoin="round" stroke-opacity="0.6"/>
<polyline points="266.6,542.0 282.7,542.0 284.7,538.9 290.6,538.9 292.2,535.6 299.6,535.6 301.3,532.2 307.0,532.2 308.7,528.7 314.4,528.7 316.0,524.1 323.1,524.1 325.2,518.1 329.8,518.1 332.4,512.8 337.1,512.8 339.6,512.1 346.8,512.1 348.9,518.7 354.1,518.7 356.1,509.4 361.8,509.4 363.9,514.7 369.4,514.7 371.0,504.6 377.6,504.6 379.8,511.3 385.1,511.3 387.5,515.4 392.7,515.4 394.1,476.7 401.1,476.7 402.4,442.4 408.9,442.4 410.8,469.8 414.0,496.9 427.4,496.9 427.8,524.2 432.8,527.6 437.1,532.1 439.0,532.1 440.9,527.6 446.4,527.6 447.4,515.8 449.0,515.8 451.4,504.3 453.7,500.4 455.1,492.7" fill="none" stroke="#ED72A9" stroke-width="2.6" stroke-linejoin="round" stroke-opacity="1.0"/>
<polyline points="266.6,481.6 283.6,481.6 285.2,483.0 290.8,483.0 292.1,484.2 299.6,484.2 300.8,486.0 307.4,486.0 308.6,488.1 314.6,488.1 316.0,490.3 323.9,490.3 325.2,492.2 330.9,492.2 332.9,494.7 338.0,494.7 339.6,497.1 346.3,497.1 348.4,498.8 354.1,498.8 356.1,503.0 361.8,503.0 363.9,510.0 370.1,510.0 372.0,519.2 385.6,519.2 387.2,497.4 392.0,497.4 393.7,448.3 401.1,448.3 403.0,424.9 409.5,424.9 410.8,436.9 414.0,436.9 416.0,498.7 427.4,498.7 430.2,515.4 434.8,515.4 436.2,505.7 439.9,501.3 441.1,488.3 443.0,488.3 446.4,478.9 449.7,478.9 453.2,477.8 457.9,477.8" fill="none" stroke="#6E92CE" stroke-width="2.6" stroke-linejoin="round" stroke-opacity="1.0"/>
<polyline points="485.0,458.3 502.2,458.3 503.9,474.3 509.3,474.3 511.2,498.5 517.6,498.5 518.4,512.6 525.9,512.6 527.8,518.9 533.5,519.6 534.8,522.8 539.9,522.8 541.2,518.9 545.0,518.9 549.5,517.8 551.6,512.7 556.6,512.7 558.9,506.2 571.4,506.2 573.8,517.6 581.1,517.6 582.4,529.2 588.3,529.2 589.9,519.8 603.8,519.4 605.6,508.7 609.9,508.7 611.5,457.2 618.9,457.0 621.0,427.8 627.1,427.8 628.1,443.4 631.7,443.4 632.9,515.4 644.8,515.4 648.5,539.2 653.1,539.2 654.4,530.4 657.7,530.4 658.6,511.0 663.5,506.6 665.3,491.1 668.6,491.1 670.3,486.7 672.2,484.9 674.9,485.9" fill="none" stroke="#7F55A5" stroke-width="0.8" stroke-linejoin="round" stroke-opacity="0.6"/>
<polyline points="485.0,469.1 502.2,469.1 503.5,474.3 509.3,474.3 510.5,492.1 516.9,493.4 525.9,494.7 527.8,499.8 533.5,501.1 536.1,508.7 545.0,510.0 548.4,508.0 550.4,502.9 555.5,502.9 557.7,496.4 570.3,496.4 572.6,507.8 580.0,507.8 581.2,519.4 587.1,519.4 588.7,510.0 602.6,509.6 604.4,498.9 608.7,498.9 610.3,447.4 617.7,447.2 619.8,418.0 625.9,418.0 626.9,433.6 630.5,433.6 631.7,505.7 643.6,505.7 647.3,529.4 651.9,529.4 653.2,520.6 656.5,520.6 657.4,501.3 662.4,496.8 664.1,481.3 667.5,481.3 669.1,476.9 671.0,475.2 673.7,476.1" fill="none" stroke="#7F55A5" stroke-width="0.8" stroke-linejoin="round" stroke-opacity="0.6"/>
<polyline points="485.0,484.2 533.5,484.2 542.4,486.4 545.0,487.0 556.9,489.2 562.9,492.8 570.1,494.0 572.5,500.0 579.7,501.2 582.1,509.5 587.7,515.2 589.3,505.8 603.2,505.4 605.0,494.8 609.3,494.8 610.9,443.2 618.3,443.0 620.4,413.8 626.5,413.8 627.5,429.4 631.1,429.4 632.3,501.5 644.2,501.5 647.9,525.2 652.5,525.2 653.8,516.4 657.1,516.4 658.0,497.1 662.9,492.6 664.7,477.1 668.1,477.1 669.7,472.7 671.6,471.0 674.3,471.9" fill="none" stroke="#7F55A5" stroke-width="0.8" stroke-linejoin="round" stroke-opacity="0.6"/>
<polyline points="485.5,561.5 501.9,561.5 503.8,526.1 509.1,526.1 511.2,494.9 515.5,479.7 517.9,473.3 526.1,473.3 526.7,463.3 533.4,462.8 535.1,461.1 540.7,461.1 542.3,463.8 547.9,464.4 549.6,467.5 556.4,467.5 558.0,469.7 563.6,470.2 565.8,472.9 570.8,473.4 572.5,480.9 579.8,480.9 581.5,490.5 587.0,494.9 589.5,504.1 595.3,505.9 597.8,510.2 603.0,513.2 604.9,504.7 609.3,504.7 611.8,446.0 619.2,445.8 621.3,416.6 627.4,416.6 628.4,432.2 632.0,432.2 633.2,504.3 645.1,504.3 648.8,528.0 653.4,528.0 654.7,519.2 658.0,519.2 658.9,499.9 663.8,495.4 665.6,479.9 668.9,479.9 670.6,475.5 672.4,473.8 675.2,474.7" fill="none" stroke="#7F55A5" stroke-width="0.8" stroke-linejoin="round" stroke-opacity="0.6"/>
<polyline points="485.0,492.1 502.9,492.8 516.9,494.0 527.1,497.2 533.5,497.9 539.9,501.1 545.0,502.3 550.6,495.9 551.8,497.0 557.1,497.0 559.2,498.5 563.8,498.5 565.9,501.9 571.9,501.9 574.5,507.2 580.1,507.2 582.2,512.2 587.8,512.2 589.8,508.6 596.3,508.5 597.8,521.1 603.8,521.1 605.2,504.1 610.2,504.1 611.6,461.4 612.6,461.4 619.4,461.4 621.5,430.9 627.1,430.9 629.6,450.6 631.2,450.6 631.9,522.4 644.8,522.4 647.6,537.7 652.6,537.7 654.4,523.2 658.1,523.2 660.0,500.0 662.3,500.0 664.3,476.9 667.7,476.9 669.9,465.1 671.8,463.9 674.1,459.3" fill="none" stroke="#2C8C4E" stroke-width="0.8" stroke-linejoin="round" stroke-opacity="0.6"/>
<polyline points="485.0,504.3 510.5,504.3 523.3,503.6 539.9,506.2 545.0,506.8 549.4,507.1 550.7,508.2 556.0,508.2 558.0,509.6 562.6,509.6 564.7,513.1 570.8,513.1 573.3,518.4 578.9,518.4 581.0,523.4 586.6,523.4 588.6,519.8 595.1,519.7 596.6,532.3 602.6,532.3 604.0,515.3 609.1,515.3 610.5,472.6 611.4,472.6 618.3,472.6 620.3,442.1 625.9,442.1 628.5,461.8 630.0,461.8 630.8,533.5 643.6,533.5 646.4,548.9 651.4,548.9 653.2,534.4 656.9,534.4 658.8,511.2 661.1,511.2 663.1,488.1 666.5,488.1 668.7,476.3 670.6,475.1 672.9,470.5" fill="none" stroke="#2C8C4E" stroke-width="0.8" stroke-linejoin="round" stroke-opacity="0.6"/>
<polyline points="485.0,501.1 545.0,501.3 550.3,503.4 551.5,504.5 556.8,504.5 558.9,506.0 563.5,506.0 565.6,509.4 571.7,509.4 574.2,514.8 579.8,514.8 581.9,519.8 587.5,519.8 589.5,516.2 596.0,516.1 597.5,528.6 603.5,528.6 604.9,511.7 609.9,511.7 611.4,469.0 612.3,468.9 619.1,468.9 621.2,438.4 626.8,438.4 629.3,458.2 630.9,458.2 631.6,529.9 644.5,529.9 647.3,545.2 652.3,545.2 654.1,530.8 657.8,530.8 659.7,507.5 662.0,507.5 664.0,484.5 667.4,484.5 669.6,472.6 671.5,471.4 673.8,466.9" fill="none" stroke="#2C8C4E" stroke-width="0.8" stroke-linejoin="round" stroke-opacity="0.6"/>
<polyline points="485.5,503.1 550.0,503.4 565.3,507.7 579.3,515.0 587.0,516.9 597.2,523.0 603.0,523.0 604.9,510.8 610.0,510.8 611.9,480.4 625.5,480.4 630.0,553.3 645.3,553.3 648.3,549.8 652.1,547.4 654.6,543.7 658.5,528.4 662.3,510.2 667.4,488.8 671.2,475.4 674.4,465.6" fill="none" stroke="#2C8C4E" stroke-width="0.8" stroke-linejoin="round" stroke-opacity="0.6"/>
<polyline points="485.5,488.3 502.4,488.3 503.9,489.5 509.5,489.5 510.7,491.4 516.6,491.4 518.3,495.1 525.8,495.1 527.3,502.2 532.9,502.2 535.0,509.1 539.8,509.1 541.8,512.2 549.0,512.2 551.0,507.1 556.0,507.1 558.3,500.6 570.8,500.6 573.2,512.0 580.5,512.0 581.8,523.6 587.7,523.6 589.3,514.2 603.2,513.8 605.0,503.1 609.3,503.1 610.9,451.6 618.3,451.4 620.4,422.2 626.5,422.2 627.5,437.8 631.1,437.8 632.3,509.8 644.2,509.8 647.9,533.6 652.5,533.6 653.8,524.8 657.1,524.8 658.0,505.5 662.9,501.0 664.7,485.5 668.1,485.5 669.7,481.1 671.6,479.4 674.3,480.3" fill="none" stroke="#7F55A5" stroke-width="2.6" stroke-linejoin="round" stroke-opacity="1.0"/>
<polyline points="485.5,500.0 550.0,500.1 551.3,501.2 556.6,501.2 558.6,502.7 563.2,502.7 565.3,506.1 571.4,506.1 573.9,511.4 579.5,511.4 581.6,516.4 587.2,516.4 589.2,512.8 595.7,512.7 597.2,525.3 603.2,525.3 604.6,508.3 609.7,508.3 611.1,465.6 612.0,465.6 618.8,465.6 620.9,435.1 626.5,435.1 629.1,454.8 630.6,454.8 631.4,526.6 644.2,526.6 647.0,541.9 652.0,541.9 653.8,527.4 657.5,527.4 659.4,504.2 661.7,504.2 663.7,481.1 667.1,481.1 669.3,469.3 671.2,468.1 673.5,463.5" fill="none" stroke="#2C8C4E" stroke-width="2.6" stroke-linejoin="round" stroke-opacity="1.0"/>
<rect x="113.6" y="2.6" width="313.60" height="302.30" fill="none" stroke="#555" stroke-width="1.1"/>
<line x1="201.50" y1="304.9" x2="201.50" y2="308.2" stroke="#333" stroke-width="1.1"/>
<line x1="110.0" y1="245.42" x2="113.6" y2="245.42" stroke="#333" stroke-width="1.1"/>
<line x1="294.10" y1="304.9" x2="294.10" y2="308.2" stroke="#333" stroke-width="1.1"/>
<line x1="110.0" y1="153.76" x2="113.6" y2="153.76" stroke="#333" stroke-width="1.1"/>
<line x1="386.70" y1="304.9" x2="386.70" y2="308.2" stroke="#333" stroke-width="1.1"/>
<line x1="110.0" y1="62.10" x2="113.6" y2="62.10" stroke="#333" stroke-width="1.1"/>
<rect x="50.5" y="397.5" width="198.70" height="184.50" fill="none" stroke="#555" stroke-width="1.1"/>
<line x1="106.30" y1="582.0" x2="106.30" y2="585.3" stroke="#333" stroke-width="1.1"/>
<line x1="46.9" y1="545.78" x2="50.5" y2="545.78" stroke="#333" stroke-width="1.1"/>
<line x1="164.86" y1="582.0" x2="164.86" y2="585.3" stroke="#333" stroke-width="1.1"/>
<line x1="46.9" y1="489.84" x2="50.5" y2="489.84" stroke="#333" stroke-width="1.1"/>
<line x1="223.42" y1="582.0" x2="223.42" y2="585.3" stroke="#333" stroke-width="1.1"/>
<line x1="46.9" y1="433.90" x2="50.5" y2="433.90" stroke="#333" stroke-width="1.1"/>
<rect x="267.1" y="398.4" width="198.30" height="184.10" fill="none" stroke="#555" stroke-width="1.1"/>
<line x1="323.80" y1="582.5" x2="323.80" y2="585.8" stroke="#333" stroke-width="1.1"/>
<line x1="263.5" y1="546.38" x2="267.1" y2="546.38" stroke="#333" stroke-width="1.1"/>
<line x1="383.70" y1="582.5" x2="383.70" y2="585.8" stroke="#333" stroke-width="1.1"/>
<line x1="263.5" y1="490.44" x2="267.1" y2="490.44" stroke="#333" stroke-width="1.1"/>
<line x1="443.60" y1="582.5" x2="443.60" y2="585.8" stroke="#333" stroke-width="1.1"/>
<line x1="263.5" y1="434.50" x2="267.1" y2="434.50" stroke="#333" stroke-width="1.1"/>
<rect x="485.5" y="398.9" width="198.80" height="184.40" fill="none" stroke="#555" stroke-width="1.1"/>
<line x1="542.00" y1="583.3" x2="542.00" y2="586.5999999999999" stroke="#333" stroke-width="1.1"/>
<line x1="481.9" y1="547.00" x2="485.5" y2="547.00" stroke="#333" stroke-width="1.1"/>
<line x1="601.10" y1="583.3" x2="601.10" y2="586.5999999999999" stroke="#333" stroke-width="1.1"/>
<line x1="481.9" y1="491.10" x2="485.5" y2="491.10" stroke="#333" stroke-width="1.1"/>
<line x1="660.20" y1="583.3" x2="660.20" y2="586.5999999999999" stroke="#333" stroke-width="1.1"/>
<line x1="481.9" y1="435.20" x2="485.5" y2="435.20" stroke="#333" stroke-width="1.1"/>
<text x="68.70" y="12.20" font-size="23.5" font-weight="bold" fill="#111" textLength="11.12" lengthAdjust="spacingAndGlyphs">a</text>
<text x="42.53" y="377.90" font-size="23.5" font-weight="bold" fill="#111" textLength="15.73" lengthAdjust="spacingAndGlyphs">b</text>
<text x="256.94" y="378.30" font-size="23.5" font-weight="bold" fill="#111" textLength="13.30" lengthAdjust="spacingAndGlyphs">c</text>
<text x="472.91" y="379.60" font-size="23.5" font-weight="bold" fill="#111" textLength="15.12" lengthAdjust="spacingAndGlyphs">d</text>
<text x="79.20" y="235.36" font-size="14.4" font-weight="normal" fill="#111" textLength="189.09" lengthAdjust="spacingAndGlyphs" transform="rotate(-90 79.20 235.36)">Effective population size (Ne)</text>
<text x="10.90" y="583.97" font-size="14.4" font-weight="normal" fill="#111" textLength="189.80" lengthAdjust="spacingAndGlyphs" transform="rotate(-90 10.90 583.97)">Effective population size (Ne)</text>
<text x="102.10" y="86.49" font-size="11.5" font-weight="normal" fill="#111" textLength="52.59" lengthAdjust="spacingAndGlyphs" transform="rotate(-90 102.10 86.49)">1,000,000</text>
<text x="102.10" y="169.97" font-size="11.5" font-weight="normal" fill="#111" textLength="35.46" lengthAdjust="spacingAndGlyphs" transform="rotate(-90 102.10 169.97)">10,000</text>
<text x="102.10" y="257.48" font-size="11.5" font-weight="normal" fill="#111" textLength="19.53" lengthAdjust="spacingAndGlyphs" transform="rotate(-90 102.10 257.48)">100</text>
<text x="41.20" y="458.14" font-size="11.5" font-weight="normal" fill="#111" textLength="49.72" lengthAdjust="spacingAndGlyphs" transform="rotate(-90 41.20 458.14)">1,000,000</text>
<text x="41.20" y="508.75" font-size="11.5" font-weight="normal" fill="#111" textLength="34.73" lengthAdjust="spacingAndGlyphs" transform="rotate(-90 41.20 508.75)">10,000</text>
<text x="41.20" y="554.27" font-size="11.5" font-weight="normal" fill="#111" textLength="17.17" lengthAdjust="spacingAndGlyphs" transform="rotate(-90 41.20 554.27)">100</text>
<text x="191.69" y="321.90" font-size="11.5" font-weight="normal" fill="#111" textLength="20.28" lengthAdjust="spacingAndGlyphs">100</text>
<text x="275.23" y="321.90" font-size="11.5" font-weight="normal" fill="#111" textLength="35.67" lengthAdjust="spacingAndGlyphs">10,000</text>
<text x="360.02" y="321.90" font-size="11.5" font-weight="normal" fill="#111" textLength="52.28" lengthAdjust="spacingAndGlyphs">1,000,000</text>
<text x="95.63" y="599.00" font-size="11.5" font-weight="normal" fill="#111" textLength="19.31" lengthAdjust="spacingAndGlyphs">100</text>
<text x="144.04" y="599.00" font-size="11.5" font-weight="normal" fill="#111" textLength="35.15" lengthAdjust="spacingAndGlyphs">10,000</text>
<text x="195.45" y="599.00" font-size="11.5" font-weight="normal" fill="#111" textLength="50.23" lengthAdjust="spacingAndGlyphs">1,000,000</text>
<text x="310.22" y="599.00" font-size="11.5" font-weight="normal" fill="#111" textLength="19.64" lengthAdjust="spacingAndGlyphs">100</text>
<text x="362.43" y="599.00" font-size="11.5" font-weight="normal" fill="#111" textLength="35.46" lengthAdjust="spacingAndGlyphs">10,000</text>
<text x="412.71" y="599.00" font-size="11.5" font-weight="normal" fill="#111" textLength="52.69" lengthAdjust="spacingAndGlyphs">1,000,000</text>
<text x="529.90" y="599.00" font-size="11.5" font-weight="normal" fill="#111" textLength="19.96" lengthAdjust="spacingAndGlyphs">100</text>
<text x="579.32" y="599.00" font-size="11.5" font-weight="normal" fill="#111" textLength="35.77" lengthAdjust="spacingAndGlyphs">10,000</text>
<text x="631.84" y="599.00" font-size="11.5" font-weight="normal" fill="#111" textLength="51.15" lengthAdjust="spacingAndGlyphs">1,000,000</text>
<text x="202.34" y="341.20" font-size="14.4" font-weight="normal" fill="#111" textLength="132.86" lengthAdjust="spacingAndGlyphs">Years before present</text>
<text x="307.94" y="623.00" font-size="14.4" font-weight="normal" fill="#111" textLength="134.47" lengthAdjust="spacingAndGlyphs">Years before present</text>
<text x="92.34" y="367.60" font-size="13.2" font-weight="normal" fill="#111" textLength="114.66" lengthAdjust="spacingAndGlyphs">Bering land bridges</text>
<text x="78.80" y="383.60" font-size="13.2" font-weight="normal" fill="#111" textLength="145.85" lengthAdjust="spacingAndGlyphs">11-30 kya and 60-70 kya</text>
<text x="294.23" y="368.40" font-size="13.2" font-weight="normal" fill="#111" textLength="138.27" lengthAdjust="spacingAndGlyphs">Dogs entering Australia</text>
<text x="345.19" y="384.40" font-size="13.2" font-weight="normal" fill="#111" textLength="39.99" lengthAdjust="spacingAndGlyphs">~4 kya</text>
<text x="497.14" y="368.60" font-size="13.2" font-weight="normal" fill="#111" textLength="163.05" lengthAdjust="spacingAndGlyphs">Columbus entering America</text>
<text x="558.56" y="384.60" font-size="13.2" font-weight="normal" fill="#111" textLength="44.30" lengthAdjust="spacingAndGlyphs">500 yrs</text>
<rect x="460" y="61.00" width="21" height="4.6" fill="#ED72A9"/>
<text x="494.40" y="67.20" font-size="11.5" font-weight="normal" fill="#111" textLength="59.73" lengthAdjust="spacingAndGlyphs">Asia (ASIA)</text>
<rect x="460" y="85.90" width="21" height="4.6" fill="#6E92CE"/>
<text x="494.40" y="92.20" font-size="11.5" font-weight="normal" fill="#111" textLength="72.74" lengthAdjust="spacingAndGlyphs">Australia (AUS)</text>
<rect x="460" y="110.80" width="21" height="4.6" fill="#7F55A5"/>
<text x="493.81" y="117.20" font-size="11.5" font-weight="normal" fill="#111" textLength="137.04" lengthAdjust="spacingAndGlyphs">Central America (CENAM)</text>
<rect x="460" y="135.70" width="21" height="4.6" fill="#2C8C4E"/>
<text x="493.46" y="142.20" font-size="11.5" font-weight="normal" fill="#111" textLength="73.60" lengthAdjust="spacingAndGlyphs">Europe (EUR)</text>
<rect x="460" y="160.60" width="21" height="4.6" fill="#E8613F"/>
<text x="493.52" y="167.20" font-size="11.5" font-weight="normal" fill="#111" textLength="164.49" lengthAdjust="spacingAndGlyphs">United States of America (USA)</text>
<g fill="none" stroke="#333" stroke-width="0.9" stroke-dasharray="3.3 2">
<polyline points="312.8,267.5 458.4,267.5 458.4,221.6 482.6,221.6"/>
<polyline points="331.5,276.9 468.9,276.9 468.9,246.7 482.6,246.7"/>
<polyline points="344.3,286.2 480,286.2 482,283"/>
</g>
<text x="485.43" y="224.60" font-size="11.5" font-weight="normal" fill="#111" textLength="158.00" lengthAdjust="spacingAndGlyphs">dog domestication (14-40 kya)</text>
<text x="484.63" y="250.00" font-size="11.5" font-weight="normal" fill="#111" textLength="73.56" lengthAdjust="spacingAndGlyphs">cooling during</text>
<text x="484.56" y="263.50" font-size="11.5" font-weight="normal" fill="#111" textLength="183.85" lengthAdjust="spacingAndGlyphs">Marine Isotope Stage 4 (58-72 kya)</text>
<text x="485.50" y="286.80" font-size="11.5" font-weight="normal" fill="#111" textLength="80.28" lengthAdjust="spacingAndGlyphs">warming during</text>
<text x="485.03" y="300.00" font-size="11.5" font-weight="normal" fill="#111" textLength="167.70" lengthAdjust="spacingAndGlyphs">interglacial period (116-130 kya)</text>
<rect x="71" y="415.15" width="13.00" height="4.7" fill="#ED72A9" fill-opacity="0.8"/>
<text x="93.20" y="421.20" font-size="11.4" font-weight="normal" fill="#111" textLength="25.64" lengthAdjust="spacingAndGlyphs">ASIA</text>
<rect x="71" y="429.05" width="13.00" height="4.7" fill="#E8613F" fill-opacity="0.8"/>
<text x="92.33" y="435.70" font-size="11.4" font-weight="normal" fill="#111" textLength="23.89" lengthAdjust="spacingAndGlyphs">USA</text>
<rect x="283.1" y="416.05" width="13.10" height="4.7" fill="#ED72A9" fill-opacity="0.8"/>
<text x="305.20" y="421.60" font-size="11.4" font-weight="normal" fill="#111" textLength="25.64" lengthAdjust="spacingAndGlyphs">ASIA</text>
<rect x="283.1" y="430.05" width="13.10" height="4.7" fill="#6E92CE" fill-opacity="0.8"/>
<text x="305.20" y="435.80" font-size="11.4" font-weight="normal" fill="#111" textLength="23.02" lengthAdjust="spacingAndGlyphs">AUS</text>
<rect x="494.7" y="415.95" width="13.10" height="4.7" fill="#7F55A5" fill-opacity="0.8"/>
<text x="515.71" y="421.30" font-size="11.4" font-weight="normal" fill="#111" textLength="42.45" lengthAdjust="spacingAndGlyphs">CENAM</text>
<rect x="494.7" y="429.75" width="13.10" height="4.7" fill="#2C8C4E" fill-opacity="0.8"/>
<text x="515.39" y="435.90" font-size="11.4" font-weight="normal" fill="#111" textLength="23.93" lengthAdjust="spacingAndGlyphs">EUR</text>
<line x1="165.9" y1="397.5" x2="165.9" y2="582.0" stroke="#555" stroke-width="0.7" stroke-dasharray="1 1.2"/>
<line x1="178.8" y1="397.5" x2="178.8" y2="582.0" stroke="#555" stroke-width="0.7" stroke-dasharray="1 1.2"/>
<line x1="187.4" y1="397.5" x2="187.4" y2="582.0" stroke="#555" stroke-width="0.7" stroke-dasharray="1 1.2"/>
<line x1="189.5" y1="397.5" x2="189.5" y2="582.0" stroke="#555" stroke-width="0.7" stroke-dasharray="1 1.2"/>
<polygon points="161,389.8 184,389.8 173,405" fill="#E0262B"/>
<polygon points="185.8,389.8 191.7,389.8 188.4,404.4" fill="#E0262B"/>
<line x1="371.7" y1="398.4" x2="371.7" y2="582.5" stroke="#555" stroke-width="0.7" stroke-dasharray="1 1.2"/>
<polygon points="369.2,390.6 374.2,390.6 371.7,404.5" fill="#E0262B"/>
<line x1="562.5" y1="398.9" x2="562.5" y2="583.3" stroke="#555" stroke-width="0.7" stroke-dasharray="1 1.2"/>
<polygon points="560.2,391.4 565.2,391.4 562.5,406" fill="#E0262B"/>
</svg></body></html>
